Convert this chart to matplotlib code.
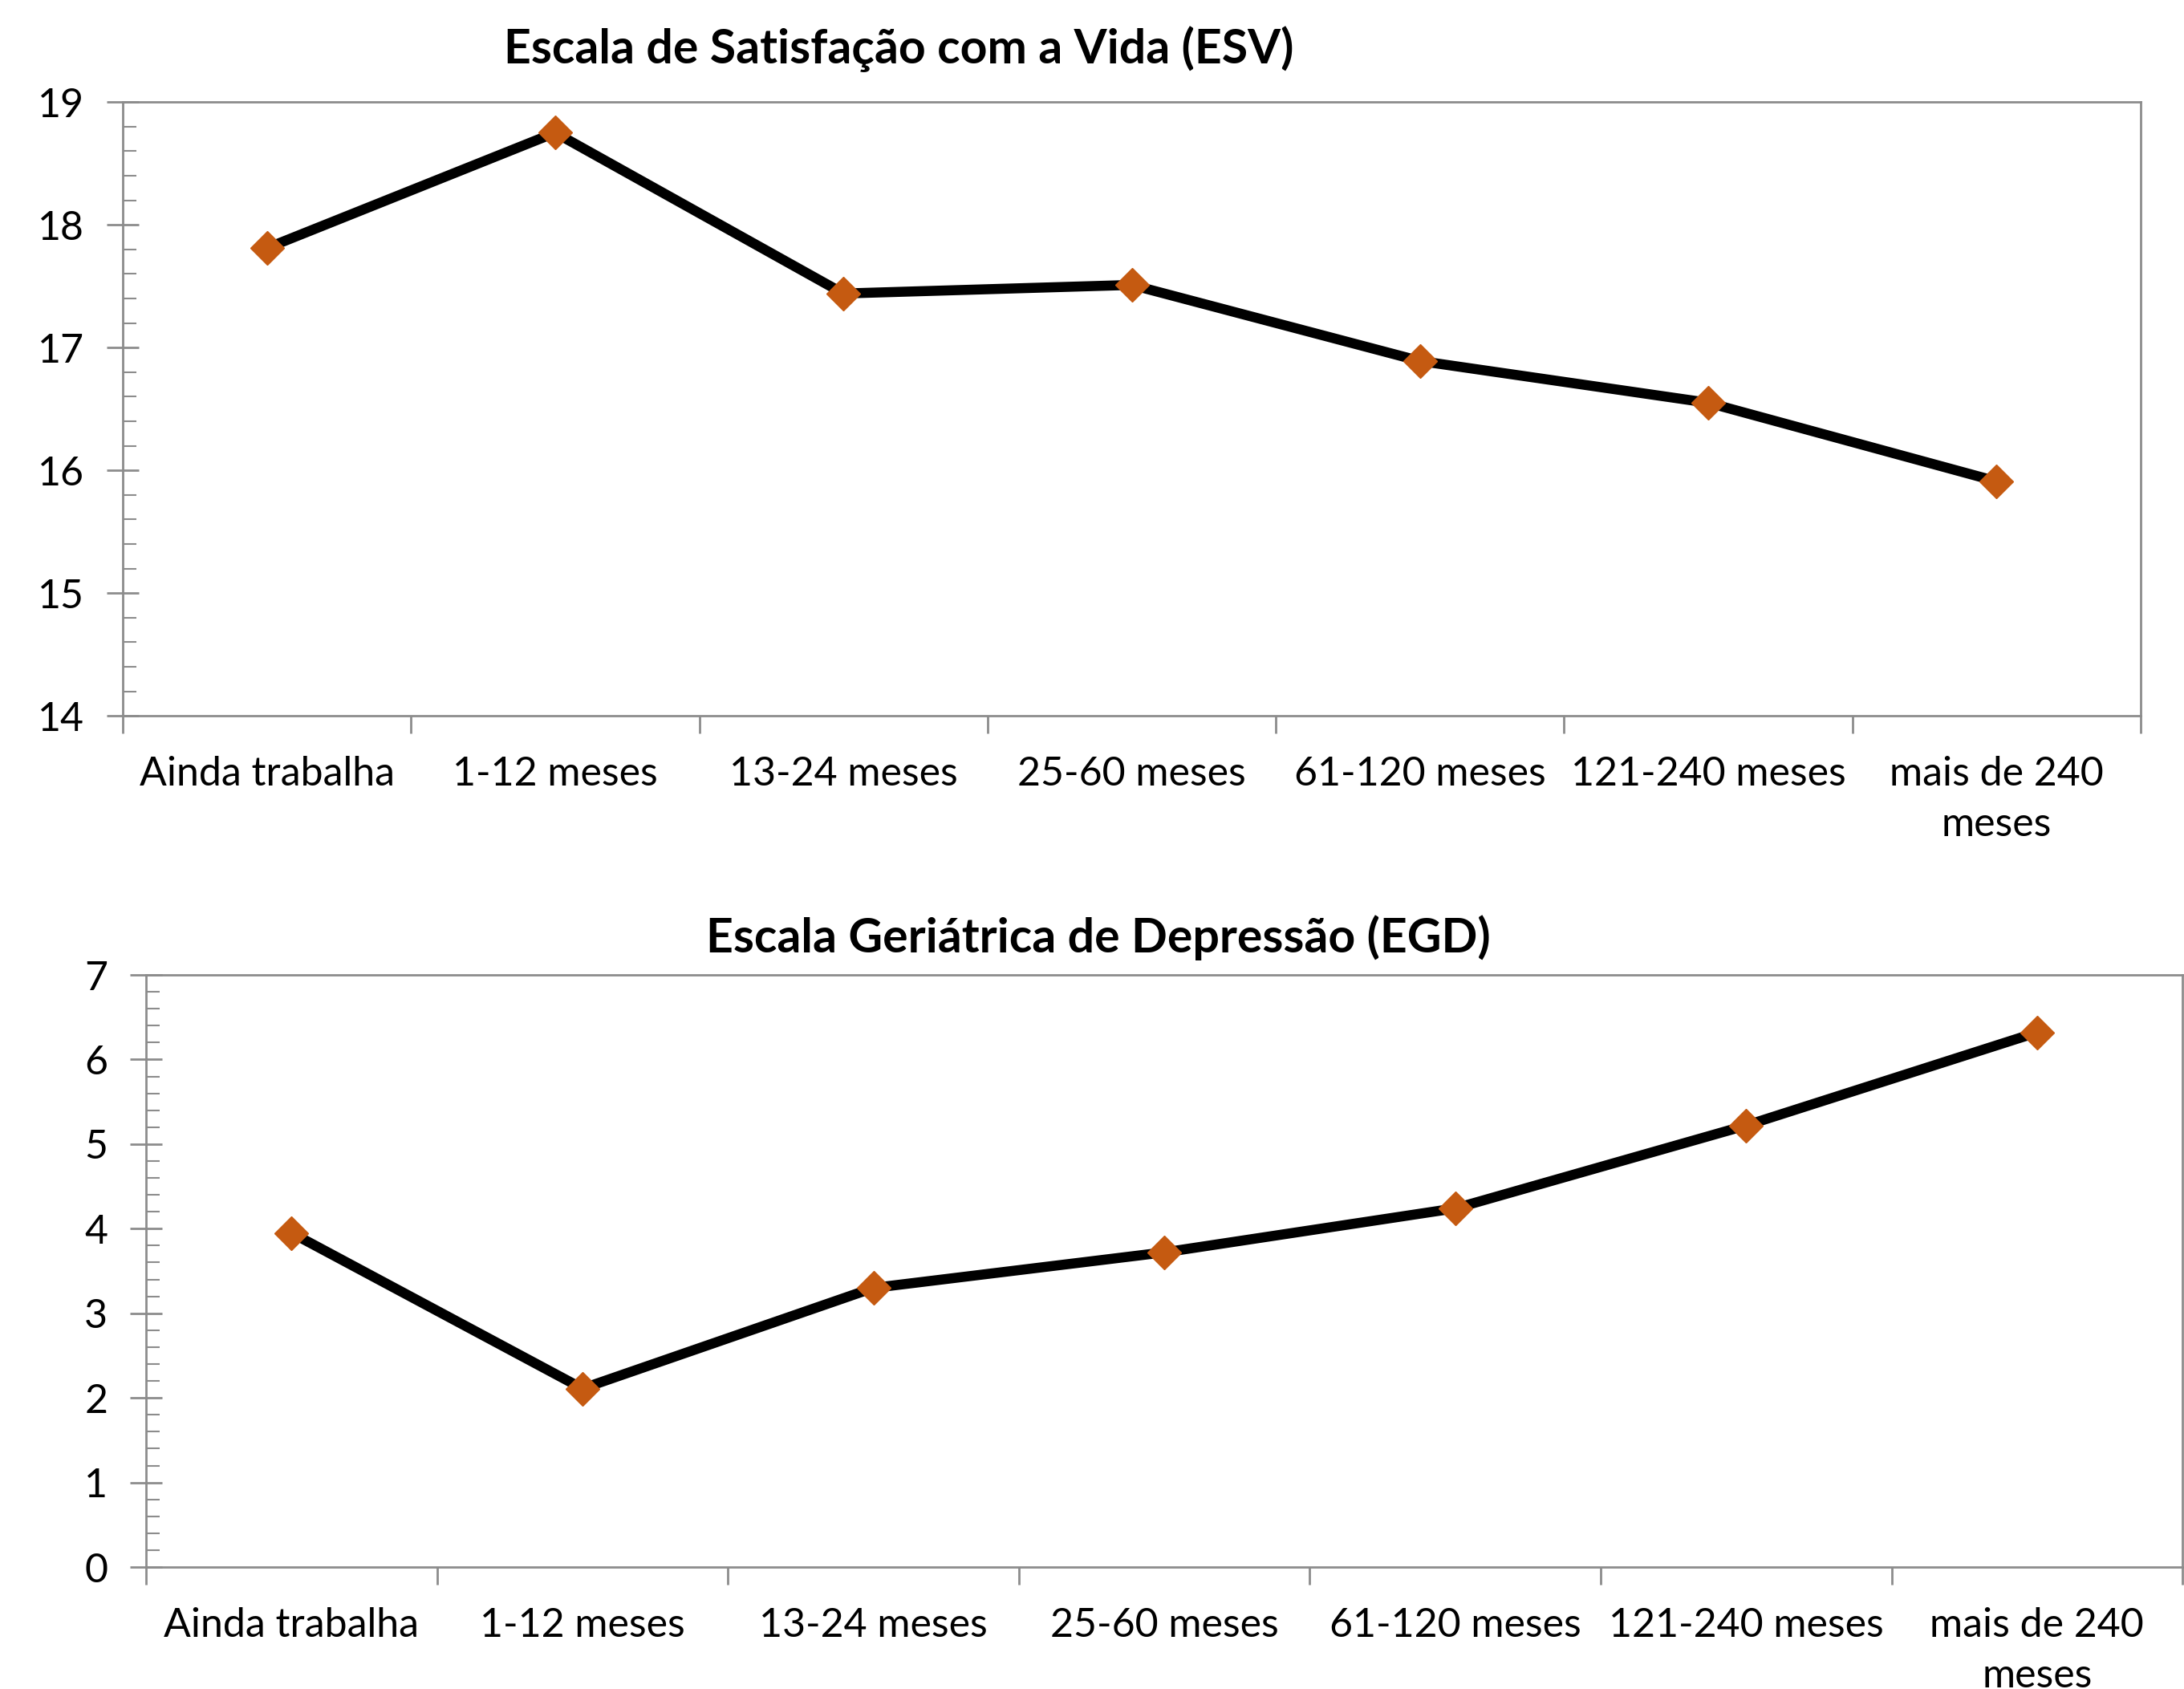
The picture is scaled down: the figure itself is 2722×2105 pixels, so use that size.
import matplotlib
matplotlib.use('Agg')
import matplotlib.pyplot as plt
from matplotlib.ticker import MultipleLocator, FixedLocator

plt.rcParams['font.family'] = ['Lato', 'DejaVu Sans']

categorias = ['Ainda trabalha', '1-12 meses', '13-24 meses', '25-60 meses',
              '61-120 meses', '121-240 meses', 'mais de 240\nmeses']
esv = [17.81, 18.75, 17.44, 17.51, 16.89, 16.55, 15.91]
egd = [3.95, 2.11, 3.30, 3.72, 4.24, 5.22, 6.32]

titulo_esv = 'Escala de Satisfação com a Vida (ESV)'
titulo_egd = 'Escala Geriátrica de Depressão (EGD)'

cor_linha = 'black'
cor_marca = '#C55A11'
cor_eixo = '#8c8c8c'

fig = plt.figure(figsize=(27.22, 21.05), dpi=100)
ax1 = fig.add_axes([0.0562, 0.5762, 0.924, 0.3634])
ax2 = fig.add_axes([0.0669, 0.0722, 0.9324, 0.3506])


def desenha(ax, valores, ymin, ymax):
    x = list(range(len(categorias)))
    ax.plot(x, valores, color=cor_linha, lw=9, marker='D', ms=21,
            mfc=cor_marca, mec=cor_marca, zorder=3, clip_on=False)
    ax.set_xlim(-0.5, len(categorias) - 0.5)
    ax.set_ylim(ymin, ymax)
    for s in ax.spines.values():
        s.set_color(cor_eixo)
        s.set_linewidth(2)
    # y
    ax.yaxis.set_major_locator(MultipleLocator(1))
    ax.yaxis.set_minor_locator(MultipleLocator(0.2))
    ax.tick_params(axis='y', which='major', direction='inout', length=29,
                   width=2, color=cor_eixo, labelsize=36, pad=20)
    ax.tick_params(axis='y', which='minor', direction='in', length=12,
                   width=1.5, color=cor_eixo)
    # x: marcas nos limites, rotulos no centro
    ax.xaxis.set_major_locator(FixedLocator([i - 0.5 for i in range(len(categorias) + 1)]))
    ax.xaxis.set_minor_locator(FixedLocator(x))
    ax.set_xticklabels([], minor=False)
    ax.set_xticklabels(categorias, minor=True, linespacing=1.45)
    ax.tick_params(axis='x', which='major', direction='out', length=16,
                   width=2, color=cor_eixo)
    ax.tick_params(axis='x', which='minor', length=0, labelsize=36, pad=36)


desenha(ax1, esv, 14, 19)
desenha(ax2, egd, 0, 7)

fig.text(0.4115, 0.971, titulo_esv, ha='center', va='center',
         fontsize=42.5, fontweight='bold')
fig.text(0.503, 0.445, titulo_egd, ha='center', va='center',
         fontsize=42.5, fontweight='bold')

fig.savefig('out.png', dpi=100)
